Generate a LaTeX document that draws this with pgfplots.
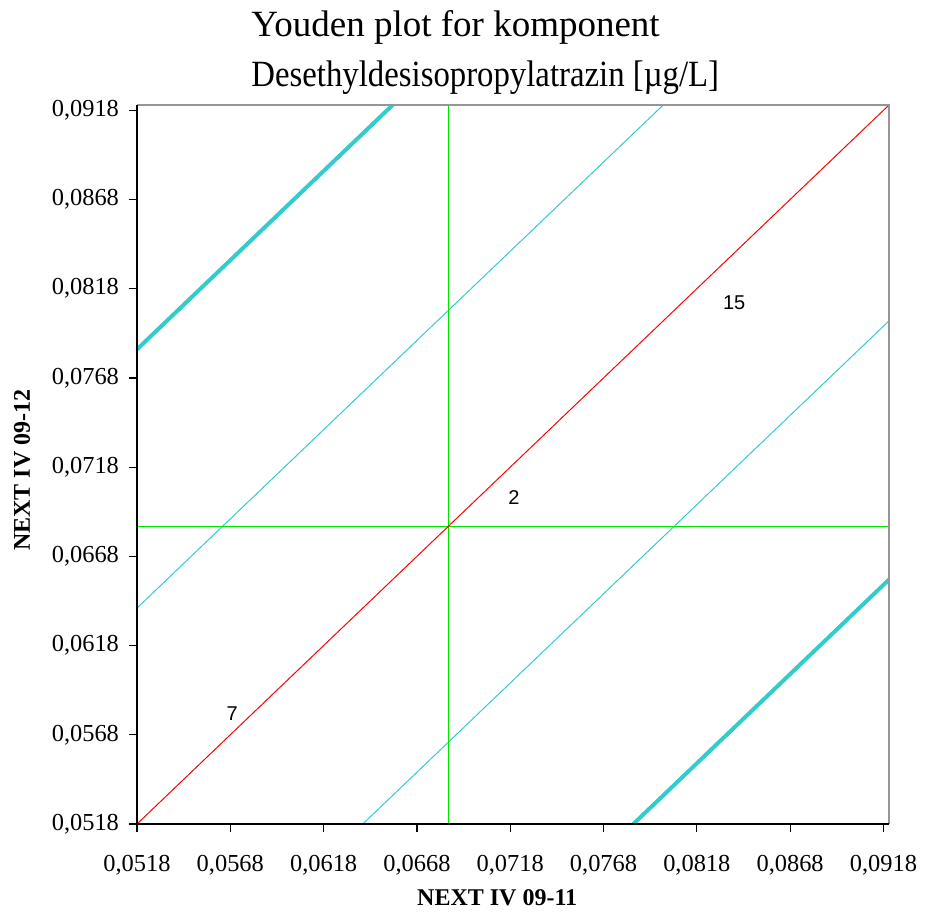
\documentclass[border=0pt]{standalone}
\usepackage{pgfplots}
\pgfplotsset{compat=1.18}
\usepackage{graphicx}
\usepackage{fontspec}
\setmainfont{Liberation Serif}
\newfontfamily\arialfont{Liberation Sans}
\definecolor{cyanl}{RGB}{51,204,204}
\definecolor{redl}{RGB}{255,0,0}
\definecolor{greenl}{RGB}{0,230,0}
\definecolor{frameg}{RGB}{150,150,150}
\begin{document}
\begin{tikzpicture}
\begin{axis}[
  scale only axis,
  width=376pt, height=359.5pt,
  xmin=0.0518, xmax=0.0921, ymin=0.0518, ymax=0.0921,
  axis x line*=bottom, axis y line*=left,
  axis line style={black, line width=0.8pt},
  tick align=outside, major tick length=4pt,
  tick style={black, line width=0.6pt},
  xtick={0.0518,0.0568,0.0618,0.0668,0.0718,0.0768,0.0818,0.0868,0.0918},
  ytick={0.0518,0.0568,0.0618,0.0668,0.0718,0.0768,0.0818,0.0868,0.0918},
  scaled ticks=false,
  /pgf/number format/assume math mode=true,
  /pgf/number format/.cd, fixed, fixed zerofill, precision=4, use comma, 1000 sep={},
  /pgfplots/.cd,
  ticklabel style={font=\fontsize{12.2pt}{14pt}\selectfont},
  xticklabel style={yshift=-8pt},
  yticklabel style={xshift=-1.5pt},
  xlabel={\textbf{NEXT IV 09-11}},
  ylabel={\textbf{NEXT IV 09-12}},
  label style={font=\fontsize{12pt}{14pt}\selectfont},
  xlabel style={at={(axis description cs:0.479,-0.1029)}, anchor=center},
  ylabel style={at={(axis description cs:-0.1529,0.492)}, anchor=center},
  clip=true,
]
% Thick outer limits
\addplot[cyanl, line width=2pt] coordinates {(0.0518,0.0784) (0.0655,0.0921)};
\addplot[cyanl, line width=2pt] coordinates {(0.0784,0.0518) (0.0921,0.0655)};
% Thin inner limits
\addplot[cyanl, line width=0.5pt] coordinates {(0.0518,0.0639) (0.0800,0.0921)};
\addplot[cyanl, line width=0.5pt] coordinates {(0.0639,0.0518) (0.0921,0.0800)};
% Median lines
\addplot[greenl, line width=0.5pt] coordinates {(0.0518,0.0685) (0.0921,0.0685)};
\addplot[greenl, line width=0.5pt] coordinates {(0.0685,0.0518) (0.0685,0.0921)};
% Diagonal
\addplot[redl, line width=0.5pt] coordinates {(0.0518,0.0518) (0.0921,0.0921)};
% Lab labels
\addplot[draw=none, mark=none, point meta=explicit symbolic,
  nodes near coords={\arialfont\fontsize{10pt}{12pt}\selectfont\pgfplotspointmeta},
  nodes near coords style={anchor=center, text=black}]
  table[meta=l] {
x y l
0.0720 0.0701 2
0.0838 0.0810 15
0.0569 0.0580 7
};
\end{axis}
\draw[frameg, line width=1.2pt] (current axis.north west) -- (current axis.north east) -- (current axis.south east);
\draw[black, line width=0.8pt] (current axis.north west) -- (current axis.south west) -- (current axis.south east);
\node[anchor=base west, font=\fontsize{18.5pt}{22pt}\selectfont, inner sep=0pt] at ([shift={(57pt,34pt)}]current axis.north west) {Youden plot for komponent};
\node[anchor=base west, font=\fontsize{18.5pt}{22pt}\selectfont, inner sep=0pt] at ([shift={(57pt,9pt)}]current axis.north west) {\scalebox{0.886}[1]{Desethyldesisopropylatrazin [µg/L]}};
\pgfresetboundingbox
\path[use as bounding box] ([shift={(-68.5pt,-47.5pt)}]current axis.south west) rectangle ([shift={(18pt,52.5pt)}]current axis.north east);
\end{tikzpicture}
\end{document}
